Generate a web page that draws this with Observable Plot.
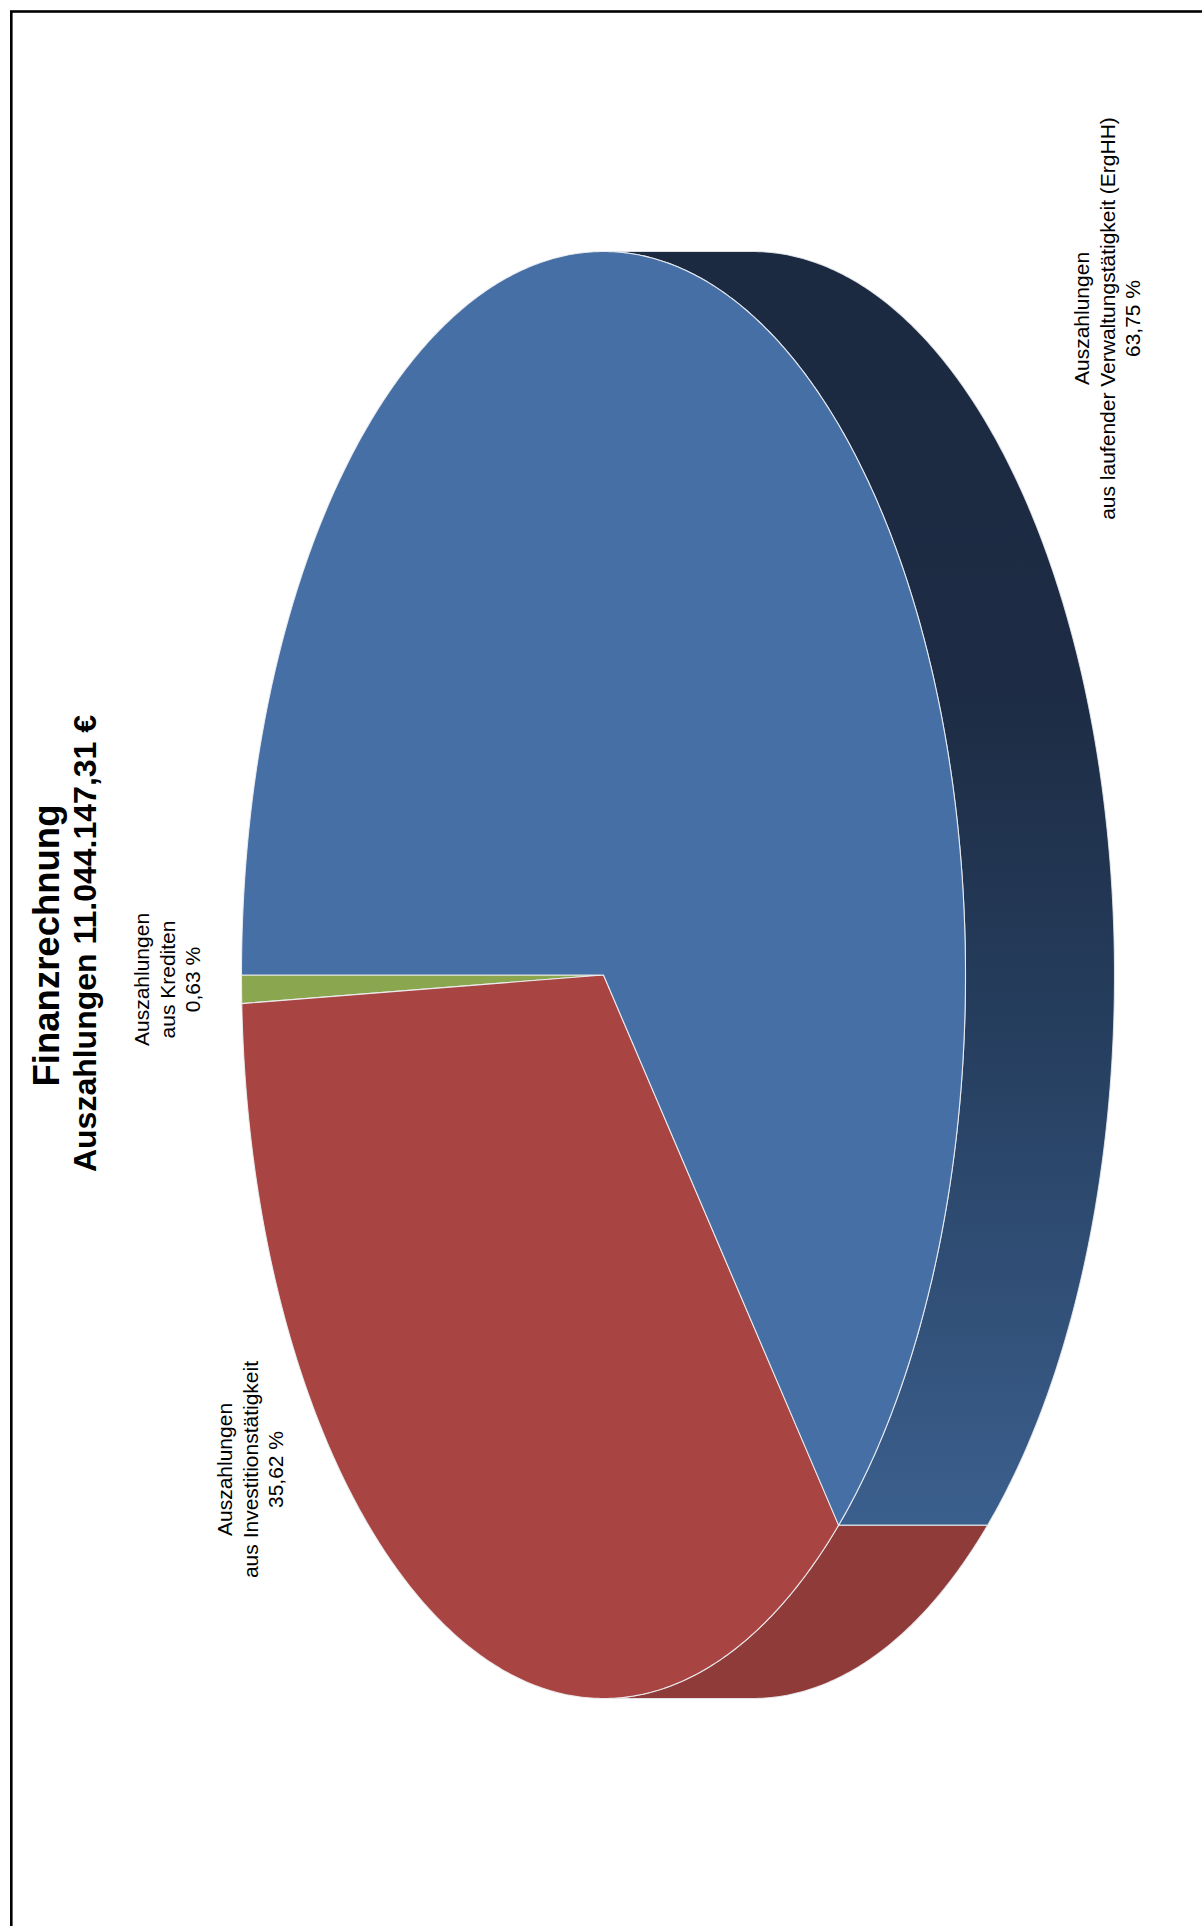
<!DOCTYPE html>
<html>
<head>
<meta charset="utf-8">
<script src="https://cdn.jsdelivr.net/npm/d3@7"></script>
<script src="https://cdn.jsdelivr.net/npm/@observablehq/plot@0.6"></script>
<style>
  html, body { margin: 0; padding: 0; background: #fff; }
  #chart svg { display: block; }
</style>
</head>
<body>
<div id="chart"></div>
<script>
// ---------- data ----------
const categories = ["Krediten", "Investition", "Verwaltung"];
const shares = [0.63, 35.62, 63.75];
const labelTexts = [
  "Auszahlungen\naus Krediten\n0,63 %",
  "Auszahlungen\naus Investitionstätigkeit\n35,62 %",
  "Auszahlungen\naus laufender Verwaltungstätigkeit (ErgHH)\n63,75 %"
];
const titleLines = ["Finanzrechnung", "Auszahlungen 11.044.147,31 €"];

// ---------- layout / style ----------
const W = 1202, H = 1926;
const geo = {cx: 603, cy: 974.5, a: 723.5, b: 362, d: 149};
const topColor = {Krediten: "#8aa64f", Investition: "#a84543", Verwaltung: "#4670a5"};
const sideColor = {Krediten: "#6e8a3c", Investition: "#8f3b39", Verwaltung: "url(#sideGrad)"};
const labelPos = {
  Krediten: {x: 166, y: 979},
  Investition: {x: 249, y: 1469},
  Verwaltung: {x: 1106, y: 318}
};
const titlePos = [{x: 47, y: 945, size: 36.5}, {x: 85, y: 943, size: 32}];

// ---------- geometry from data ----------
const total = d3.sum(shares);
let acc = 0;
const slices = categories.map((c, i) => {
  const t0 = acc / total * 2 * Math.PI;
  acc += shares[i];
  const t1 = acc / total * 2 * Math.PI;
  return {cat: c, t0, t1, share: shares[i], label: labelTexts[i]};
});
const P = t => [geo.cx - geo.b * Math.cos(t), geo.cy + geo.a * Math.sin(t)];
function arcPts(t0, t1) {
  const n = Math.max(2, Math.ceil((t1 - t0) / (Math.PI / 360)));
  return d3.range(n + 1).map(k => P(t0 + (t1 - t0) * k / n));
}
function topFace(s) {
  const c = [geo.cx, geo.cy];
  return [c, ...arcPts(s.t0, s.t1), c].map(([x, y]) => ({x, y}));
}
function sideFace(s) {
  const lo = Math.max(s.t0, Math.PI / 2), hi = Math.min(s.t1, 3 * Math.PI / 2);
  if (hi <= lo) return null;
  const arc = arcPts(lo, hi);
  const shifted = arc.map(([x, y]) => [x + geo.d, y]).reverse();
  return [...arc, ...shifted, arc[0]].map(([x, y]) => ({x, y}));
}

const marks = [];
for (const s of slices) {
  const side = sideFace(s);
  if (side) marks.push(Plot.line(side, {x: "x", y: "y", fill: sideColor[s.cat], stroke: "#e9ecf0", strokeWidth: 1.1, strokeOpacity: 0.85, curve: "linear"}));
}
for (const s of slices) {
  marks.push(Plot.line(topFace(s), {x: "x", y: "y", fill: topColor[s.cat], stroke: "#eef0f3", strokeWidth: 1.1, strokeOpacity: 0.9, curve: "linear"}));
}
marks.push(Plot.text(slices, {
  x: d => labelPos[d.cat].x, y: d => labelPos[d.cat].y, text: "label",
  rotate: -90, fontSize: 21, lineHeight: 1.2, textAnchor: "middle", lineAnchor: "middle",
  fill: "#000", fontFamily: "Liberation Sans, Arial, sans-serif"
}));
titleLines.forEach((t, i) => {
  marks.push(Plot.text([t], {
    x: () => titlePos[i].x, y: () => titlePos[i].y, text: d => d,
    rotate: -90, fontSize: titlePos[i].size, fontWeight: "bold", textAnchor: "middle", lineAnchor: "middle",
    fill: "#000", fontFamily: "Liberation Sans, Arial, sans-serif"
  }));
});
marks.push(Plot.frame({stroke: "#000", strokeWidth: 2.6, insetLeft: 10.8, insetTop: 11, insetRight: -20, insetBottom: -20}));

const plot = Plot.plot({
  width: W, height: H,
  margin: 0,
  x: {domain: [0, W], range: [0, W], axis: null},
  y: {domain: [0, H], range: [0, H], axis: null},
  style: {background: "#fff", overflow: "hidden"},
  marks
});

const svg = d3.select(plot);
svg.insert("defs", ":first-child").html(`
  <linearGradient id="sideGrad" gradientUnits="userSpaceOnUse" x1="0" y1="${geo.cy - geo.a}" x2="0" y2="${P(slices[1].t1)[1]}">
    <stop offset="0" stop-color="#1b2a40"/>
    <stop offset="0.35" stop-color="#1d2c44"/>
    <stop offset="0.6" stop-color="#253d5d"/>
    <stop offset="1" stop-color="#3b5f8d"/>
  </linearGradient>`);
document.getElementById("chart").appendChild(plot);
</script>
</body>
</html>
